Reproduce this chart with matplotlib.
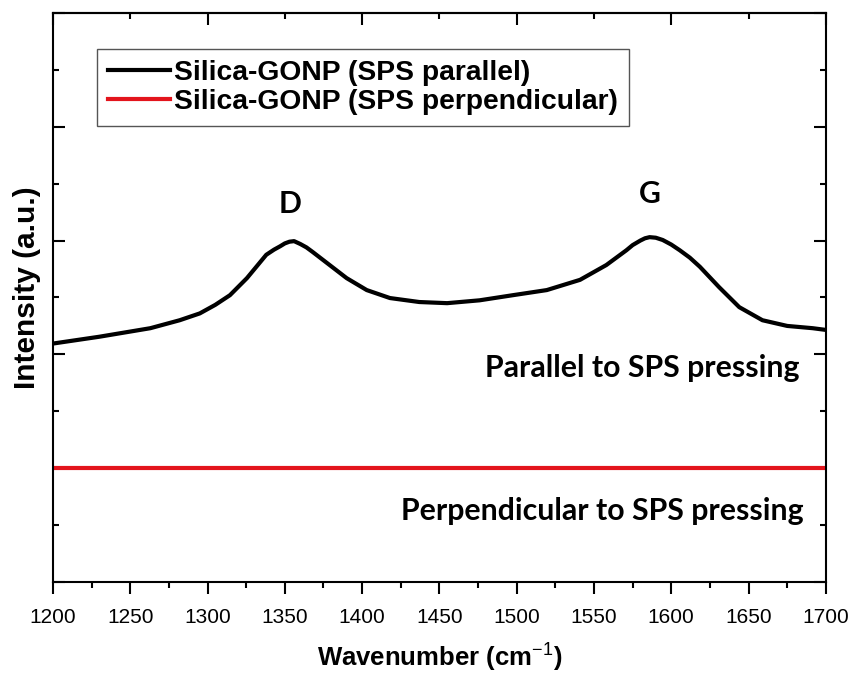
import matplotlib.pyplot as plt
from matplotlib.ticker import MultipleLocator

# --- Data (y in arbitrary units, axis 0..10) ---
wavenumber = [1200, 1230, 1263, 1282, 1295, 1305, 1314.5, 1325.5, 1338, 1343, 1347,
              1350, 1353, 1356, 1360, 1364, 1368, 1379, 1390, 1403, 1418, 1437,
              1455, 1476, 1497.5, 1519.5, 1541, 1558, 1571, 1575, 1580, 1583, 1586,
              1590, 1594.5, 1600, 1605.5, 1612, 1618.5, 1631, 1644, 1659, 1675,
              1691.5, 1700]
intensity_parallel = [4.19, 4.31, 4.46, 4.60, 4.72, 4.87, 5.04, 5.34, 5.75, 5.84, 5.90,
                      5.95, 5.98, 5.99, 5.94, 5.88, 5.80, 5.57, 5.34, 5.13, 4.99, 4.92,
                      4.90, 4.95, 5.04, 5.13, 5.31, 5.57, 5.83, 5.92, 6.00, 6.04, 6.06,
                      6.05, 6.01, 5.93, 5.83, 5.70, 5.54, 5.18, 4.83, 4.60, 4.50,
                      4.46, 4.43]
wavenumber_perp = [1200, 1700]
intensity_perp = [2.0, 2.0]

label_parallel = "Silica-GONP (SPS parallel)"
label_perp = "Silica-GONP (SPS perpendicular)"

# --- Figure ---
plt.rcParams['font.family'] = ['Liberation Sans', 'DejaVu Sans']
plt.rcParams['mathtext.fontset'] = 'custom'
plt.rcParams['mathtext.rm'] = 'Liberation Sans'
plt.rcParams['mathtext.bf'] = 'Liberation Sans:bold'

fig = plt.figure(figsize=(8.54, 6.75), dpi=100)
ax = fig.add_axes([0.062, 0.1378, 0.905, 0.843])

ax.plot(wavenumber, intensity_parallel, color='black', lw=3.0, label=label_parallel)
ax.plot(wavenumber_perp, intensity_perp, color='#e3141c', lw=3.0, label=label_perp)

ax.set_xlim(1200, 1700)
ax.set_ylim(0, 10)

for s in ax.spines.values():
    s.set_linewidth(1.5)

# bottom x ticks: outward, labelled
ax.xaxis.set_major_locator(MultipleLocator(50))
ax.xaxis.set_minor_locator(MultipleLocator(25))
ax.tick_params(axis='x', which='major', direction='out', length=8.5, width=1.5,
               labelsize=15, pad=10)
ax.tick_params(axis='x', which='minor', direction='out', length=4.5, width=1.5)

# y ticks: inward both sides, no labels
ax.yaxis.set_major_locator(MultipleLocator(2))
ax.yaxis.set_minor_locator(MultipleLocator(1))
ax.tick_params(axis='y', which='both', direction='in', left=True, right=True,
               labelleft=False, width=1.5)
ax.tick_params(axis='y', which='major', length=8.5)
ax.tick_params(axis='y', which='minor', length=4.5)

# top ticks: inward, no labels
top = ax.secondary_xaxis('top')
top.xaxis.set_major_locator(MultipleLocator(100))
top.xaxis.set_minor_locator(MultipleLocator(50))
top.tick_params(axis='x', which='both', direction='in', labeltop=False, width=1.5)
top.tick_params(axis='x', which='major', length=8.5)
top.tick_params(axis='x', which='minor', length=4.5)
top.spines['top'].set_linewidth(1.5)

ax.set_xlabel(r'Wavenumber (cm$^{\mathrm{-1}}$)', fontsize=18.5, fontweight='bold', labelpad=10)
ax.set_ylabel('Intensity (a.u.)', fontsize=21.5, fontweight='bold')
ax.yaxis.set_label_coords(-0.016, 0.518)

# annotations
ann_font = dict(family=['Lato', 'DejaVu Sans'], fontweight='bold', fontsize=21.8)
ax.text(1353.3, 6.49, 'D', ha='center', va='baseline', **ann_font)
ax.text(1586, 6.66, 'G', ha='center', va='baseline', **ann_font)
ax.text(1479.4, 3.60, 'Parallel to SPS pressing', ha='left', va='baseline', **ann_font)
ax.text(1425, 1.09, 'Perpendicular to SPS pressing', ha='left', va='baseline', **ann_font)

leg = ax.legend(loc='upper left', bbox_to_anchor=(0.057, 0.937), borderaxespad=0,
                prop={'weight': 'bold', 'size': 20.3}, handlelength=2.2,
                handletextpad=0.15, labelspacing=0.12, borderpad=0.38,
                fancybox=False, framealpha=1)
leg.get_frame().set_edgecolor('#555555')
leg.get_frame().set_linewidth(1.0)

fig.savefig('out.png', dpi=100)
